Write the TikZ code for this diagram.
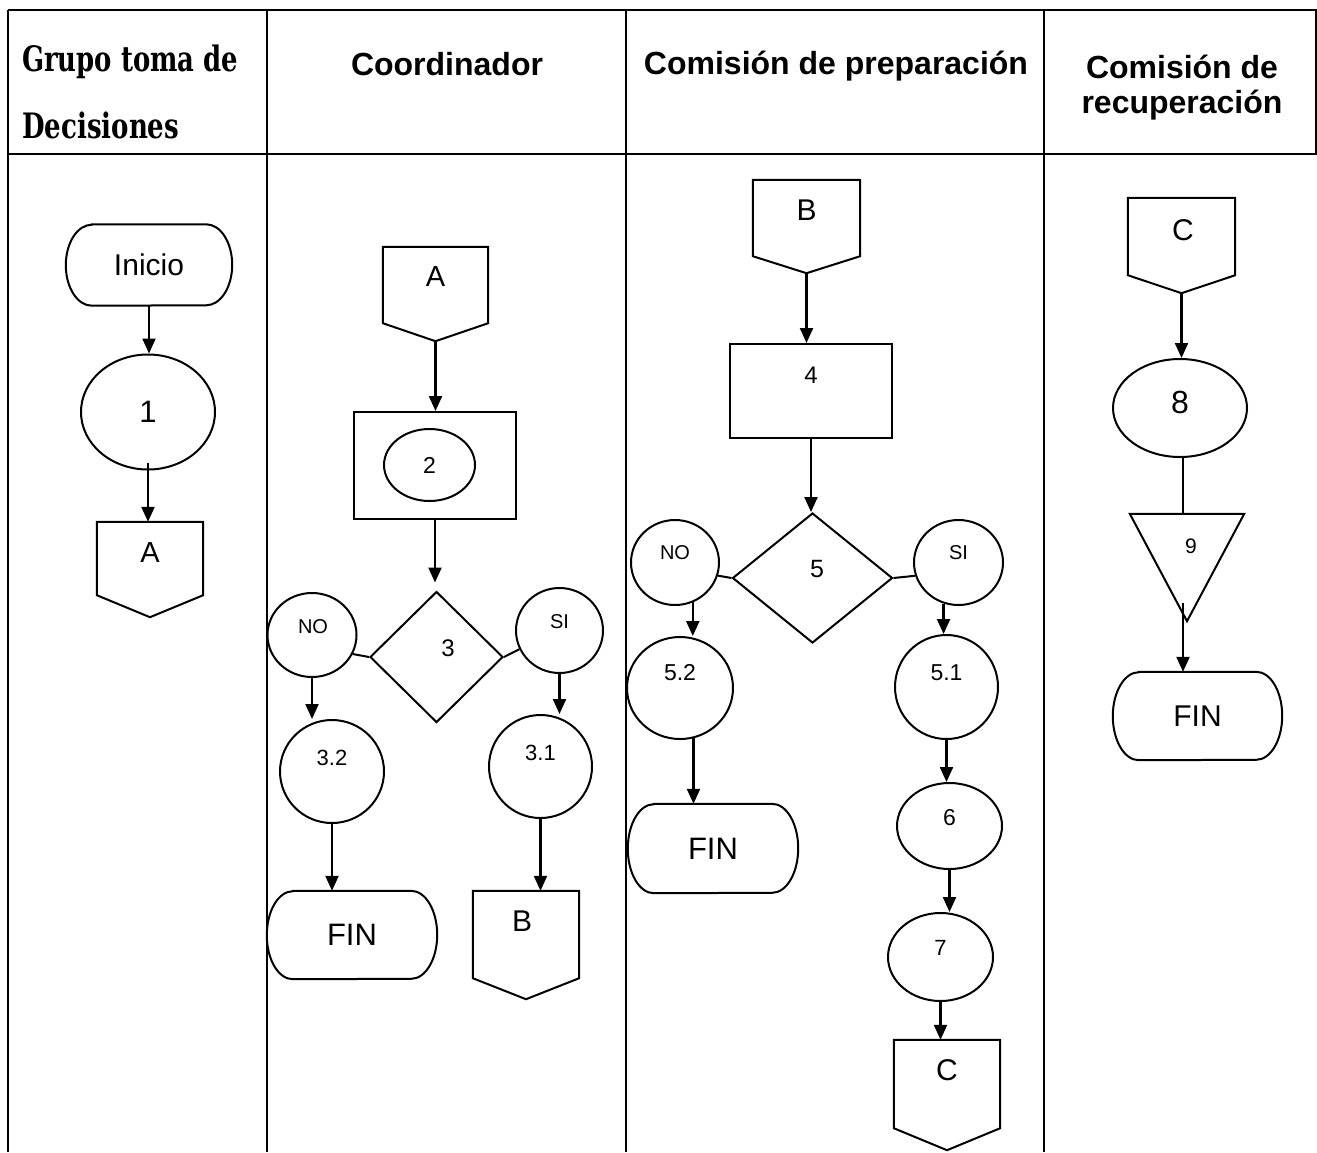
\documentclass[tikz,border=0pt]{standalone}
\usepackage{fontspec}
\setmainfont{Liberation Sans}
\newfontfamily\serifhead{DejaVu Serif}
\usetikzlibrary{shapes.geometric,arrows.meta,calc}
\newcommand\fsz[1]{\fontsize{#1}{#1}\selectfont}
\tikzset{
  shp/.style={draw, line width=2pt, inner sep=0pt},
  body/.style={inner sep=0pt},
  ell/.style={shp, ellipse},
  rbox/.style={shp, rectangle},
  dia/.style={shp, diamond},
  arr/.style={line width=2.2pt, -{Triangle[length=15pt,width=13pt]}},
  plain/.style={line width=2pt},
  tbl/.style={line width=2pt},
  hdr/.style={inner sep=0pt, font=\bfseries\fsz{32}},
  shdr/.style={inner sep=0pt, anchor=base west, font=\serifhead\bfseries\fsz{35}}
}
% off-page connector outline around a body node
\newcommand\offpg[2]{%
  \draw[shp] (#1.north west) -- (#1.south west) -- ([yshift=-#2pt]#1.south) -- (#1.south east) -- (#1.north east) -- cycle;
  \coordinate (#1tip) at ([yshift=-#2pt]#1.south);}
% terminator outline (half-ellipse ends) around a body node: name, x radius, y radius
\newcommand\termshape[3]{%
  \draw[shp] ([xshift=#2pt]#1.north west) -- ([xshift=-#2pt]#1.north east)
    arc[start angle=90, end angle=-90, x radius=#2pt, y radius=#3pt]
    -- ([xshift=#2pt]#1.south west)
    arc[start angle=270, end angle=90, x radius=#2pt, y radius=#3pt] -- cycle;}
\begin{document}
\begin{tikzpicture}[x=1pt,y=-1pt]
\useasboundingbox (0,0) rectangle (1317,1152);
% table
\draw[tbl] (8,10) -- (1317,10);
\draw[tbl] (8,154) -- (1317,154);
\foreach \xx in {8,267,626,1044} \draw[tbl] (\xx,10) -- (\xx,1152);
\draw[line width=1.5pt] (1316,10) -- (1316,154);
% headers
\node[shdr] (h1a) at (22,71) {\resizebox{216pt}{\height}{Grupo toma de}};
\node[shdr] (h1b) at (22,138) {\resizebox{157pt}{\height}{Decisiones}};
\node[hdr, anchor=base] (h2) at (447,75) {Coordinador};
\node[hdr, anchor=base] (h3) at (836,74) {Comisión de preparación};
\node[hdr, anchor=base] (h4a) at (1182,78) {Comisión de};
\node[hdr, anchor=base] (h4b) at (1182,113) {recuperación};

% ---- column 1
\node[body, minimum width=166pt, minimum height=81pt, font=\fsz{30}] (ini) at (149,265) {Inicio};
\termshape{ini}{26}{40.5}
\node[ell, minimum width=134pt, minimum height=115pt, font=\fsz{31}] (n1) at (148,412) {1};
\node[body, minimum width=106pt, minimum height=73pt, label={[font=\fsz{29},yshift=5.5pt]center:A}] (A1) at (150,558.5) {};
\offpg{A1}{22}
\coordinate (n1out) at ($(n1.south)+(0,-8)$);
\draw[arr] (ini.south) -- (ini.south |- n1.north);
\draw[arr] (n1out) -- (n1out |- A1.north);

% ---- column 2
\node[body, minimum width=105pt, minimum height=76pt, label={[font=\fsz{29},yshift=8pt]center:A}] (A2) at (435.5,285) {};
\offpg{A2}{18}
\node[rbox, minimum width=162pt, minimum height=107pt] (r2) at (435,465.5) {};
\node[ell, minimum width=91pt, minimum height=72pt, font=\fsz{23}] (e2) at (429.5,465) {2};
\node[dia, minimum width=133pt, minimum height=131pt, label={[font=\fsz{24},xshift=11.5pt,yshift=9pt]center:3}] (d3) at (436.5,657) {};
\node[ell, minimum width=89pt, minimum height=84pt, label={[font=\fsz{20},xshift=1pt,yshift=8pt]center:NO}] (no3) at (312,635) {};
\node[ell, minimum width=87pt, minimum height=85pt, label={[font=\fsz{20},yshift=8.5pt]center:SI}] (si3) at (559.5,630.5) {};
\node[ell, minimum width=104pt, minimum height=103pt, label={[font=\fsz{22},yshift=13.5pt]center:3.2}] (c32) at (332,771.5) {};
\node[ell, minimum width=103pt, minimum height=103pt, label={[font=\fsz{22},yshift=13.5pt]center:3.1}] (c31) at (540.5,766.5) {};
\node[body, minimum width=170pt, minimum height=88pt, font=\fsz{31}] (fin2) at (352,935) {FIN};
\termshape{fin2}{26}{44}
\node[body, minimum width=106pt, minimum height=87pt, label={[font=\fsz{30},xshift=-4pt,yshift=13.5pt]center:B}] (B2) at (526,934.5) {};
\offpg{B2}{21}
\coordinate (d3in) at ($(r2.south |- d3.north)+(0,-8)$);
\draw[arr] (A2tip) -- (A2tip |- r2.north);
\draw[arr] (r2.south) -- (d3in);
\draw[plain] (no3.-25) -- (d3.west);
\draw[plain] (si3.-155) -- (d3.east);
\draw[arr] (no3.south) -- (no3.south |- c32.north);
\draw[arr] (si3.south) -- (si3.south |- c31.north);
\draw[arr] (c32.south) -- (c32.south |- fin2.north);
\draw[arr] (c31.south) -- (c31.south |- B2.north);

% ---- column 3
\node[body, minimum width=107pt, minimum height=76pt, label={[font=\fsz{30},yshift=8pt]center:B}] (B3) at (806.5,218) {};
\offpg{B3}{17}
\node[rbox, minimum width=162pt, minimum height=94pt, label={[font=\fsz{24},yshift=16pt]center:4}] (r4) at (811,391) {};
\node[dia, minimum width=160pt, minimum height=130pt, label={[font=\fsz{25},xshift=4.5pt,yshift=9pt]center:5}] (d5) at (812.5,578) {};
\node[ell, minimum width=88pt, minimum height=85pt, label={[font=\fsz{20},yshift=9.5pt]center:NO}] (no5) at (675,562.5) {};
\node[ell, minimum width=89pt, minimum height=85pt, label={[font=\fsz{20},yshift=9.5pt]center:SI}] (si5) at (958.5,562.5) {};
\node[ell, minimum width=106pt, minimum height=102pt, label={[font=\fsz{23},yshift=15pt]center:5.2}] (c52) at (680,688) {};
\node[ell, minimum width=103pt, minimum height=104pt, label={[font=\fsz{23},yshift=14pt]center:5.1}] (c51) at (946.5,687) {};
\node[body, minimum width=170pt, minimum height=89pt, font=\fsz{31}] (fin3) at (713,848.5) {FIN};
\termshape{fin3}{26}{44.5}
\node[ell, minimum width=105pt, minimum height=86pt, label={[font=\fsz{23},yshift=8pt]center:6}] (e6) at (949.5,826) {};
\node[ell, minimum width=105pt, minimum height=88pt, label={[font=\fsz{22},yshift=9pt]center:7}] (e7) at (940.5,957) {};
\node[body, minimum width=106pt, minimum height=88pt, label={[font=\fsz{30},yshift=14pt]center:C}] (C3) at (947,1084) {};
\offpg{C3}{22}
\draw[arr] (B3tip) -- (B3tip |- r4.north);
\draw[arr] (r4.south) -- (r4.south |- d5.north);
\draw[plain] (no5.-17) -- (d5.west);
\draw[plain] (si5.-163) -- (d5.east);
\draw[arr] (no5.-66) -- (no5.-66 |- c52.north);
\draw[arr] (si5.-110) -- (si5.-110 |- c51.north);
\draw[arr] (c52.-75) -- (c52.-75 |- fin3.north);
\draw[arr] (c51.south) -- (c51.south |- e6.north);
\draw[arr] (e6.south) -- (e6.south |- e7.north);
\draw[arr] (e7.south) -- (e7.south |- C3.north);

% ---- column 4
\node[body, minimum width=107pt, minimum height=77pt, label={[font=\fsz{30},xshift=1.5pt,yshift=6.5pt]center:C}] (C4) at (1181.5,236.5) {};
\offpg{C4}{18}
\node[ell, minimum width=134pt, minimum height=98pt, label={[font=\fsz{32},yshift=6pt]center:8}] (e8) at (1180,408) {};
\node[body, minimum width=114pt, minimum height=107pt, label={[font=\fsz{21},xshift=4pt,yshift=21.5pt]center:9}] (tri) at (1187,567.5) {};
\draw[shp] (tri.north west) -- (tri.north east) -- (tri.south) -- cycle;
\node[body, minimum width=169pt, minimum height=88pt, font=\fsz{30}] (fin4) at (1197.5,716) {FIN};
\termshape{fin4}{26}{44}
\coordinate (e8out) at ($(e8.south)+(3,0)$);
\coordinate (triout) at ($(tri.south)+(-4,-18)$);
\draw[arr] (C4tip) -- (C4tip |- e8.north);
\draw[plain] (e8out) -- (e8out |- tri.north);
\draw[arr] (triout) -- (triout |- fin4.north);
\end{tikzpicture}
\end{document}
